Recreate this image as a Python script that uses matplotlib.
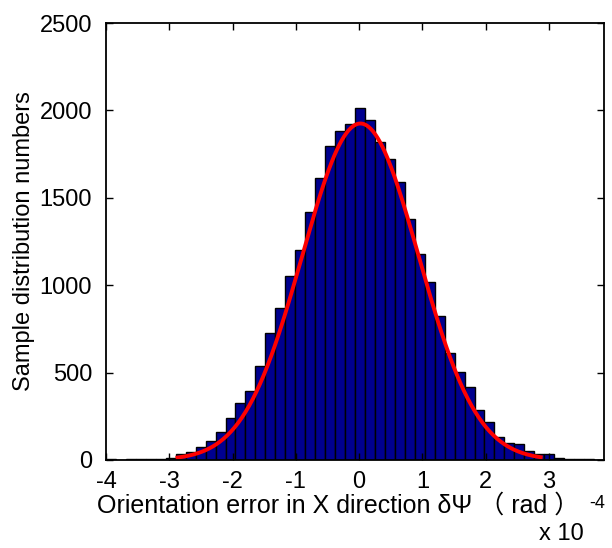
import numpy as np
import matplotlib
matplotlib.use('Agg')
import matplotlib.pyplot as plt

plt.rcParams['font.family'] = ['Liberation Sans', 'Noto Sans CJK SC', 'DejaVu Sans']

# histogram of orientation error (units of 1e-4 rad), 50 bins
x_lo = -4.0
x_hi = 3.87
counts = [8, 1, 3, 4, 5, 6, 12, 34, 48, 76,
          110, 162, 238, 324, 397, 540, 724, 868, 1053, 1200,
          1419, 1612, 1794, 1880, 1920, 2015, 1943, 1819, 1722, 1588,
          1381, 1176, 1016, 821, 612, 505, 418, 286, 218, 130,
          100, 90, 52, 36, 34, 10, 8, 8, 6, 2]

# normal fit
fit_mu = 0.02
fit_sigma = 0.92
fit_peak = 1925
fit_from = -2.87
fit_to = 2.87

xticks = [-4, -3, -2, -1, 0, 1, 2, 3]
yticks = [0, 500, 1000, 1500, 2000, 2500]

fig = plt.figure(figsize=(6.12, 5.48), dpi=100)
ax = fig.add_axes([106/612, 1-460/548, (604-106)/612, (460-23)/548])

edges = np.linspace(x_lo, x_hi, len(counts) + 1)
ax.bar(edges[:-1], counts, width=np.diff(edges), align='edge',
       color='#00008F', edgecolor='black', linewidth=1.0)

xf = np.linspace(fit_from, fit_to, 300)
yf = fit_peak * np.exp(-(xf - fit_mu)**2 / (2 * fit_sigma**2))
ax.plot(xf, yf, color='red', linewidth=2.8)

ax.set_xlim(x_lo, x_hi)
ax.set_ylim(0, 2500)
ax.set_xticks(xticks)
ax.set_xticklabels([str(t) for t in xticks])
ax.set_yticks(yticks)
ax.tick_params(direction='in', length=5, width=1, top=True, right=True,
               labelsize=17)
ax.tick_params(axis='x', pad=8)
ax.tick_params(axis='y', pad=10)
for s in ax.spines.values():
    s.set_linewidth(1.3)

ax.set_ylabel('Sample distribution numbers', fontsize=17, labelpad=3)
fig.text(338/612, 1-506/548, 'Orientation error in X direction δΨ （ rad ）',
         fontsize=18, ha='center', va='center')
fig.text(597/612, 1-504/548, '-4', fontsize=13, ha='center', va='center')
fig.text(561/612, 1-534/548, 'x 10', fontsize=17, ha='center', va='center')

fig.savefig('out.png', dpi=100)
